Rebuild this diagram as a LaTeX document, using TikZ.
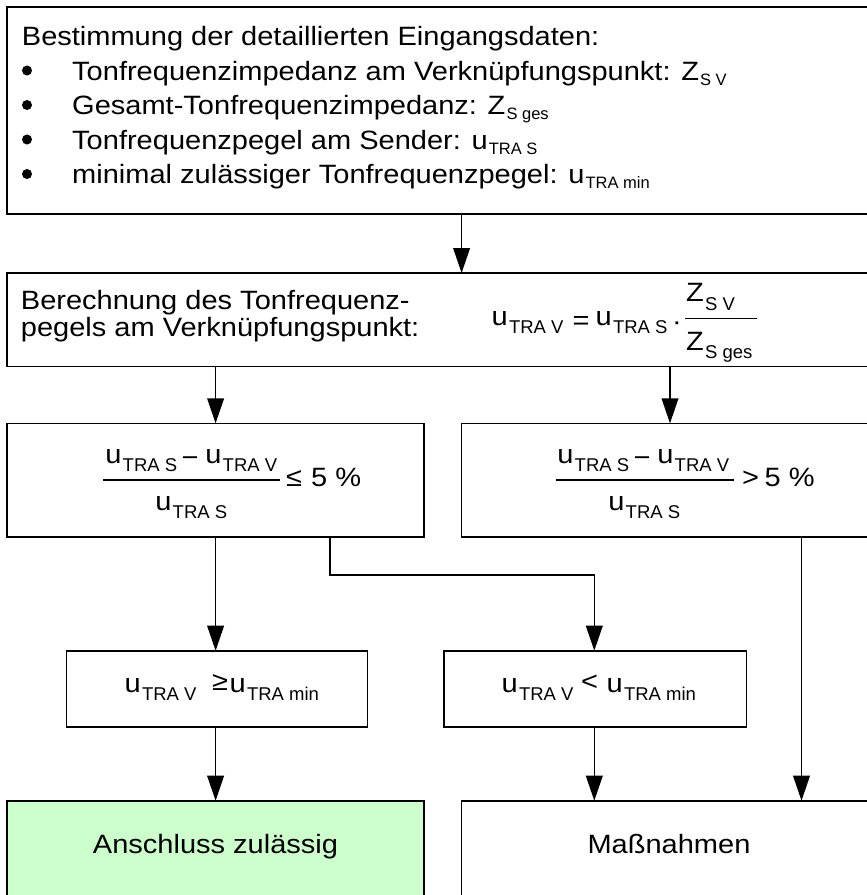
\documentclass[tikz,border=0pt]{standalone}
\usepackage{fontspec}
\setmainfont[FakeStretch=1.095]{Liberation Sans}
\newfontfamily\subfont{Liberation Sans}
\usetikzlibrary{arrows.meta}
\definecolor{okgreen}{HTML}{CCFFCC}
\newcommand\tsub[1]{\kern1pt\raisebox{-5pt}{\subfont\fontsize{16.5}{16.5}\selectfont #1}}
\newcommand\fsub[1]{\kern1.2pt\raisebox{-8.3pt}{\subfont\fontsize{18.5}{18.5}\selectfont #1}}
\tikzset{
  box/.style={draw, line width=1.6pt, inner sep=0pt, outer sep=0pt, anchor=north west},
  txt/.style={inner sep=0pt, anchor=base west, font=\fontsize{26.5}{26.5}\selectfont},
  fml/.style={inner sep=0pt, anchor=base west, font=\fontsize{26.5}{26.5}\selectfont},
  arr/.style={-{Triangle[length=25pt,width=16.7pt]}, line width=1.6pt},
  fbar/.style={line width=1.4pt},
  bul/.style={circle, fill, inner sep=0pt, minimum size=10pt},
}
\begin{document}
\begin{tikzpicture}[x=1pt,y=-1pt]
\useasboundingbox (0,0) rectangle (867,895);
\clip (0,0) rectangle (867,895);
% boxes
\node[box, minimum width=880pt, minimum height=207.3pt] (b1) at (6.7,6.7) {};
\node[box, minimum width=880pt, minimum height=93.5pt] (b2) at (6.7,273) {};
\node[box, minimum width=417.3pt, minimum height=113.4pt] (b3l) at (6.7,423.3) {};
\node[box, minimum width=417.3pt, minimum height=113.4pt] (b3r) at (461.6,423.3) {};
\node[box, minimum width=301.3pt, minimum height=76pt] (b4l) at (66.3,650.7) {};
\node[box, minimum width=302.4pt, minimum height=76pt] (b4r) at (443.9,650.7) {};
\node[box, fill=okgreen, minimum width=417.3pt, minimum height=120pt] (b5l) at (6.7,800.7) {};
\node[box, minimum width=417.3pt, minimum height=120pt] (b5r) at (461.6,800.7) {};
% x positions of connectors
\coordinate (xa) at (461.6,0);
\coordinate (xb) at (215.6,0);
\coordinate (xc) at (670,0);
\coordinate (xd) at (330,0);
\coordinate (xe) at (594.3,0);
\coordinate (xf) at (801.5,0);
\coordinate (yk) at (0,575);
% connectors
\draw[arr] (b1.south -| xa) -- (b2.north -| xa);
\draw[arr] (b2.south -| xb) -- (b3l.north -| xb);
\draw[arr] (b2.south -| xc) -- (b3r.north -| xc);
\draw[arr] (b3l.south -| xb) -- (b4l.north -| xb);
\draw[arr] (b3l.south -| xd) -- (yk -| xd) -- (yk -| xe) -- (b4r.north -| xe);
\draw[arr] (b3r.south -| xf) -- (b5r.north -| xf);
\draw[arr] (b4l.south -| xb) -- (b5l.north -| xb);
\draw[arr] (b4r.south -| xe) -- (b5r.north -| xe);
% top box text
\node[txt] (t0) at (21.7,45) {Bestimmung der detaillierten Eingangsdaten:};
\node[bul] (d1) at (27,70.5) {};
\node[bul] (d2) at (27,105) {};
\node[bul] (d3) at (27,139.5) {};
\node[bul] (d4) at (27,174) {};
\node[txt] (t1) at (72,80) {Tonfrequenzimpedanz am Verknüpfungspunkt: Z\tsub{S V}};
\node[txt] (t2) at (72,114.5) {Gesamt-Tonfrequenzimpedanz: Z\tsub{S ges}};
\node[txt] (t3) at (72,149) {Tonfrequenzpegel am Sender: u\tsub{TRA S}};
\node[txt] (t4) at (72,183.5) {minimal zulässiger Tonfrequenzpegel: u\tsub{TRA min}};
% box 2
\node[txt] (c1) at (20.7,309.3) {Berechnung des Tonfrequenz-};
\node[txt] (c2) at (20.7,336.7) {pegels am Verknüpfungspunkt:};
\node[fml] (e1) at (491.5,325) {u\fsub{TRA V}};
\node[fml] (e2) at (572.5,329) {=};
\node[fml] (e3) at (595.5,325) {u\fsub{TRA S}};
\node[fml, anchor=base] (e4) at (677,330) {·};
\node[fml] (e5) at (686,301.7) {Z\fsub{S V}};
\node[fml] (e6) at (686,350) {Z\fsub{S ges}};
\draw[fbar] (685,318.3) -- (757,318.3);
% box 3 left
\node[fml] (f1) at (105.2,463.3) {u\fsub{TRA S}};
\node[fml] (f2) at (181.5,466) {−};
\node[fml] (f3) at (205.2,463.3) {u\fsub{TRA V}};
\draw[fbar] (103,480) -- (280,480);
\node[fml] (f4) at (155.2,510) {u\fsub{TRA S}};
\node[fml] (f5) at (286,486.5) {≤};
\node[fml] (f6) at (311,486.7) {5 \%};
% box 3 right
\node[fml] (r1) at (557.2,463.3) {u\fsub{TRA S}};
\node[fml] (r2) at (633.5,466) {−};
\node[fml] (r3) at (657.2,463.3) {u\fsub{TRA V}};
\draw[fbar] (556,480) -- (734,480);
\node[fml] (r4) at (608.2,510) {u\fsub{TRA S}};
\node[fml] (r5) at (742,486.5) {>};
\node[fml] (r6) at (764.5,486.7) {5 \%};
% box 4
\node[fml] (g1) at (124.5,692) {u\fsub{TRA V}};
\node[fml] (g2) at (212,690) {≥};
\node[fml] (g3) at (229.5,692) {u\fsub{TRA min}};
\node[fml] (h1) at (501.5,692) {u\fsub{TRA V}};
\node[fml] (h2) at (581,690) {<};
\node[fml] (h3) at (606.5,692) {u\fsub{TRA min}};
% box 5
\node[txt, anchor=base] (k1) at (215.5,853) {Anschluss zulässig};
\node[txt, anchor=base] (k2) at (669,853) {Maßnahmen};
\end{tikzpicture}
\end{document}
